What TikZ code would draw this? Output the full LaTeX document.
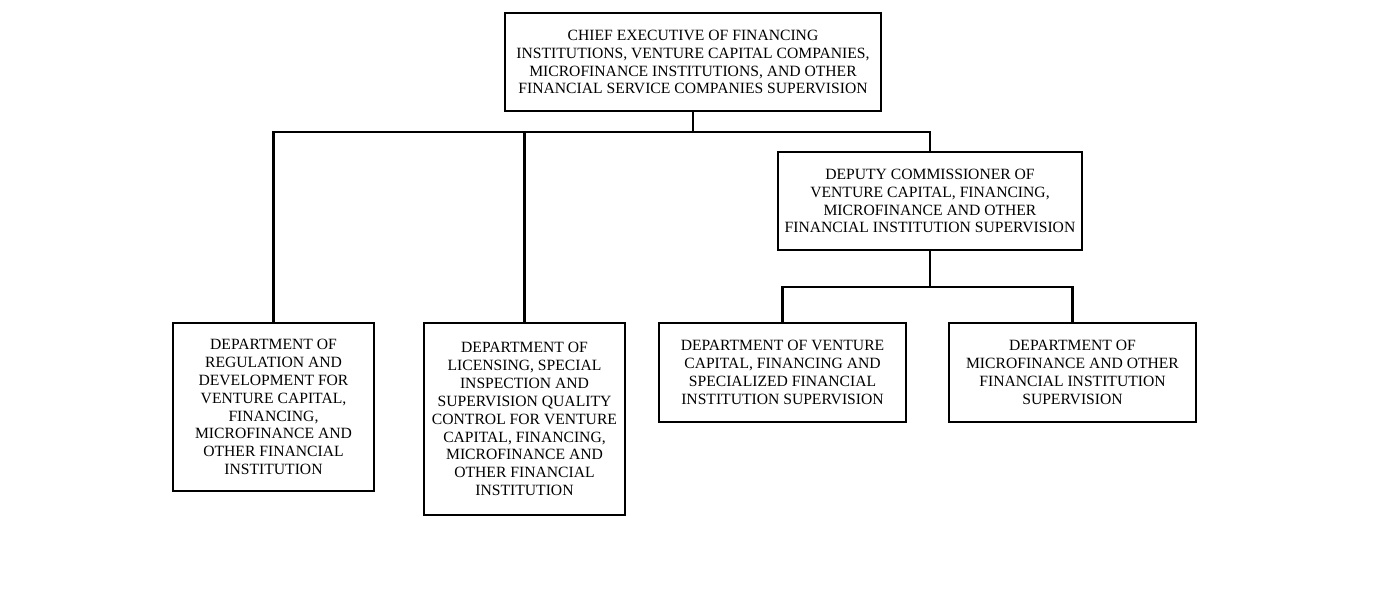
\documentclass[tikz,border=0pt]{standalone}
\usepackage{fontspec}
\setmainfont{Liberation Serif}
\usetikzlibrary{positioning}
\tikzset{
  unit/.style={draw=black, line width=1.3pt, fill=white, align=center,
    inner sep=2pt, font=\fontsize{8.9}{10.2}\selectfont},
  link/.style={draw=black, line width=1.3pt}
}

\begin{document}
\begin{tikzpicture}[x=0.02cm,y=-0.02cm]
  \useasboundingbox (0,0) rectangle (1381,603);
  \node[unit, minimum width=376*0.02cm, minimum height=98*0.02cm] (chief) at (693,62)
    {CHIEF EXECUTIVE OF FINANCING\\INSTITUTIONS, VENTURE CAPITAL COMPANIES,\\MICROFINANCE INSTITUTIONS, AND OTHER\\FINANCIAL SERVICE COMPANIES SUPERVISION};
  \node[unit, minimum width=304*0.02cm, minimum height=98*0.02cm] (deputy) at (930,201)
    {DEPUTY COMMISSIONER OF\\VENTURE CAPITAL, FINANCING,\\MICROFINANCE AND OTHER\\FINANCIAL INSTITUTION SUPERVISION};
  \node[unit, minimum width=201*0.02cm, minimum height=168*0.02cm] (regdev) at (273.5,407)
    {DEPARTMENT OF\\REGULATION AND\\DEVELOPMENT FOR\\VENTURE CAPITAL,\\FINANCING,\\MICROFINANCE AND\\OTHER FINANCIAL\\INSTITUTION};
  \node[unit, minimum width=201*0.02cm, minimum height=192*0.02cm] (licens) at (524.5,419)
    {DEPARTMENT OF\\LICENSING, SPECIAL\\INSPECTION AND\\SUPERVISION QUALITY\\CONTROL FOR VENTURE\\CAPITAL, FINANCING,\\MICROFINANCE AND\\OTHER FINANCIAL\\INSTITUTION};
  \node[unit, minimum width=247*0.02cm, minimum height=99*0.02cm] (vcsup) at (782.5,372.5)
    {DEPARTMENT OF VENTURE\\CAPITAL, FINANCING AND\\SPECIALIZED FINANCIAL\\INSTITUTION SUPERVISION};
  \node[unit, minimum width=247*0.02cm, minimum height=99*0.02cm] (mfsup) at (1072.5,372.5)
    {DEPARTMENT OF\\MICROFINANCE AND OTHER\\FINANCIAL INSTITUTION\\SUPERVISION};
  % branches from the chief executive
  \coordinate (bus1) at (693,132);
  \coordinate (bus2) at (930,287);
  \draw[link] (chief.south) -- (bus1);
  \draw[link] (regdev.north) |- (bus1) -| (deputy.north);
  \draw[link] (licens.north) -- (licens.north |- bus1);
  % branches from the deputy
  \draw[link] (deputy.south) -- (bus2);
  \draw[link] (vcsup.north) |- (bus2) -| (mfsup.north);
\end{tikzpicture}
\end{document}
